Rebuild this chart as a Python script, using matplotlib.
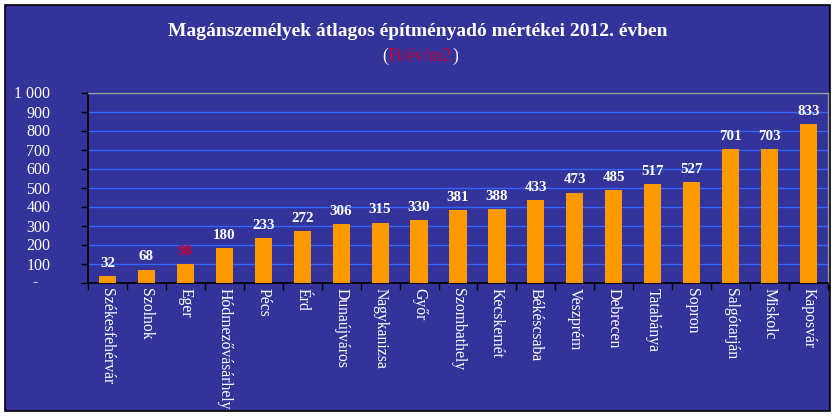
import matplotlib.pyplot as plt
from matplotlib.patches import Rectangle
from matplotlib.ticker import FixedLocator
import numpy as np

# %% data
cities = ["Székesfehérvár", "Szolnok", "Eger", "Hódmezővásárhely", "Pécs", "Érd",
          "Dunaújváros", "Nagykanizsa", "Győr", "Szombathely", "Kecskemét",
          "Békéscsaba", "Veszprém", "Debrecen", "Tatabánya", "Sopron",
          "Salgótarján", "Miskolc", "Kaposvár"]
rates = [32, 68, 98, 180, 233, 272, 306, 315, 330, 381, 388, 433, 473, 485,
         517, 527, 701, 703, 833]
highlight = "Eger"
y_ticks = [0, 100, 200, 300, 400, 500, 600, 700, 800, 900, 1000]
y_labels = ["", "100", "200", "300", "400", "500", "600", "700", "800", "900", "1 000"]

bg = "#333399"
red = "#CC0033"
W, H = 837, 417

plt.rcParams["font.family"] = ["Liberation Serif", "DejaVu Serif"]

# %% figure and frame
fig = plt.figure(figsize=(W / 100, H / 100), dpi=100, facecolor="white")
fig.patches.append(Rectangle((5 / W, 1 - 411 / H), 825 / W, 406 / H,
                             transform=fig.transFigure, facecolor=bg,
                             edgecolor="black", linewidth=1.2, zorder=-10))

ax = fig.add_axes([88 / W, 1 - 282.5 / H, 740 / W, 190 / H])
ax.set_facecolor(bg)

x = np.arange(len(cities))
ax.bar(x, rates, width=0.44, color="#FF9900", zorder=3)

for xi, v, c in zip(x, rates, cities):
    ax.annotate(str(v), (xi, v), xytext=(0, 4.5), textcoords="offset points",
                ha="center", va="bottom", fontsize=10.8, fontweight="bold",
                color=red if c == highlight else "white", zorder=4)

ax.set_xlim(-0.5, len(cities) - 0.5)
ax.set_ylim(0, 1000)
ax.set_yticks(y_ticks)
ax.set_yticklabels(y_labels)
ax.yaxis.grid(True, color="#3366FF", linewidth=1.0, zorder=1)
ax.set_axisbelow(True)
ax.text(-0.072, 0, "-", transform=ax.get_yaxis_transform(), ha="center",
        va="center", fontsize=11.5, color="white")

ax.set_xticks(x)
ax.set_xticklabels(cities, rotation=270, fontsize=11.3, color="white",
                   va="top", ha="center")
ax.xaxis.set_minor_locator(FixedLocator(np.arange(-0.5, len(cities), 1.0)))
ax.tick_params(axis="x", which="major", length=0, pad=4)
ax.tick_params(axis="x", which="minor", length=5, color="black", width=1)
ax.tick_params(axis="y", length=5, color="black", width=1, labelsize=11.5,
               labelcolor="white", pad=22)

for side in ["left", "bottom"]:
    ax.spines[side].set_color("black")
    ax.spines[side].set_linewidth(1.2)
for side in ["top", "right"]:
    ax.spines[side].set_color("#999999")
    ax.spines[side].set_linewidth(1.0)

# %% titles
fig.text(418 / W, 1 - 32 / H, "Magánszemélyek átlagos építményadó mértékei 2012. évben",
         ha="center", va="center", fontsize=14, fontweight="bold", color="white")

t1 = fig.text(382 / W, 1 - 65 / H, "(", ha="left", va="bottom",
              fontsize=12.8, color="white")
t2 = fig.text(0, 0, "Ft/év/m2", ha="left", va="bottom", fontsize=12.8, color=red)
t3 = fig.text(0, 0, ")", ha="left", va="bottom", fontsize=12.8, color="white")

# chain the pieces of the subtitle one after another
fig.canvas.draw()
r = fig.canvas.get_renderer()
for prev, cur in [(t1, t2), (t2, t3)]:
    bb = prev.get_window_extent(r)
    cur.set_position((bb.x1 / fig.bbox.width, t1.get_position()[1]))

plt.savefig("out.png", dpi=100, facecolor=fig.get_facecolor())
